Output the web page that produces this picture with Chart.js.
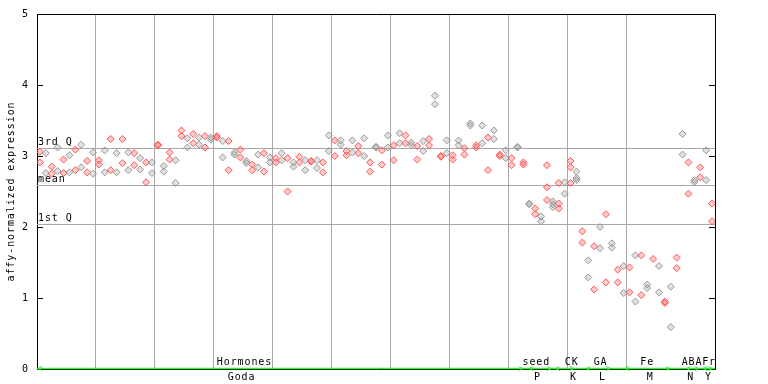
<!DOCTYPE html>
<html>
<head>
<meta charset="utf-8">
<script src="https://cdn.jsdelivr.net/npm/chart.js@4/dist/chart.umd.min.js"></script>
<style>
  html, body { margin: 0; padding: 0; background: #fff; }
  #wrap { width: 768px; height: 384px; }
</style>
</head>
<body>
<div id="wrap"><canvas id="expr"></canvas></div>
<script>
// replicate values per sample column (col i is drawn at x = i + 0.5)
var rep1 = [3.06, 3.04, 2.85, 3.12, 2.95, 3.01, 3.09, 3.16, 2.93, 3.05,
            2.94, 3.08, 3.24, 3.04, 3.24, 3.05, 3.04, 2.97, 2.91, 2.91,
            3.16, 2.86, 3.05, 2.94, 3.36, 3.25, 3.31, 3.26, 3.28, 3.26,
            3.28, 3.21, 3.21, 3.05, 3.09, 2.93, 2.88, 3.02, 3.04, 2.98,
            2.97, 3.04, 2.97, 2.91, 2.99, 2.94, 2.93, 2.94, 2.91, 3.29,
            3.22, 3.22, 3.07, 3.22, 3.14, 3.25, 2.91, 3.13, 3.08, 3.29,
            3.15, 3.32, 3.29, 3.19, 3.14, 3.21, 3.24, 3.85, 3.00, 3.22,
            3.01, 3.22, 3.11, 3.46, 3.15, 3.43, 3.26, 3.36, 3.02, 3.08,
            2.97, 3.13, 2.91, 2.33, 2.26, 2.15, 2.87, 2.36, 2.62, 2.63,
            2.93, 2.78, 1.94, 1.53, 1.73, 2.00, 2.18, 1.77, 1.40, 1.45,
            1.43, 1.60, 1.60, 1.19, 1.55, 1.45, 0.95, 1.16, 1.57, 3.31,
            2.91, 2.66, 2.84, 3.08, 2.33];
var rep2 = [2.91, 2.76, 2.75, 2.79, 2.76, 2.77, 2.80, 2.84, 2.77, 2.75,
            2.88, 2.77, 2.80, 2.77, 2.90, 2.80, 2.87, 2.81, 2.63, 2.76,
            3.15, 2.78, 2.95, 2.62, 3.28, 3.12, 3.18, 3.16, 3.12, 3.23,
            3.26, 2.98, 2.80, 3.02, 2.98, 2.90, 2.80, 2.84, 2.78, 2.91,
            2.91, 2.94, 2.50, 2.85, 2.91, 2.80, 2.92, 2.83, 2.77, 3.07,
            3.00, 3.16, 3.01, 3.05, 3.04, 3.00, 2.78, 3.12, 2.88, 3.12,
            2.94, 3.18, 3.18, 3.15, 2.95, 3.07, 3.15, 3.73, 2.99, 3.04,
            2.95, 3.15, 3.02, 3.43, 3.12, 3.18, 2.80, 3.24, 3.00, 2.97,
            2.87, 3.12, 2.88, 2.32, 2.18, 2.08, 2.56, 2.32, 2.33, 2.47,
            2.84, 2.69, 1.78, 1.29, 1.12, 1.70, 1.22, 1.71, 1.22, 1.07,
            1.08, 0.95, 1.04, 1.14, null, 1.08, 0.93, 0.59, 1.42, 3.02,
            2.47, 2.63, 2.70, 2.66, 2.08];
var rep3 = [];
rep3[86] = 2.38; rep3[87] = 2.28; rep3[88] = 2.26; rep3[90] = 2.62; rep3[91] = 2.66;

// quartile / mean reference lines
var refValues = [3.108, 2.587, 2.038];
var refNames = ['3rd Q', 'mean', '1st Q'];

// sample groups along the bottom
var groupNames = ['Hormones', 'seed', 'CK', 'GA', 'Fe', 'ABA', 'Fr'];
var groupSources = ['Goda', 'P', 'K', 'L', 'M', 'N', 'Y'];
var groupFrom = [0, 83.3, 87.8, 93.0, 99.6, 110.0, 112.8];
var groupTo = [82.6, 87.4, 91.2, 97.4, 107.5, 112.4, 114.7];
var groupLabelAt = [35.2, 84.7, 90.7, 95.6, 103.5, 111.1, 114.0];
var groupSourceAt = [34.7, 84.9, 91.0, 95.9, 104.0, 110.9, 113.9];

var nCols = 115;
var RED = '#ff5555';
var GREY = '#999999';
var GREEN = '#33ee33';
var FONT = { family: 'DejaVu Sans Mono', size: 10 };

var toPoints = function (rep) {
    var pts = [];
    for (var i = 0; i < nCols; i++) {
        var v = rep[i];
        pts.push({ x: i + 0.5, y: (v === undefined ? null : v) });
    }
    return pts;
};

var pointDataset = function (rep) {
    return {
        data: toPoints(rep),
        pointStyle: 'rectRot',
        pointRadius: 3.5,
        pointBorderWidth: 1,
        pointBackgroundColor: function (ctx) {
            return ctx.dataIndex % 2 ? 'rgba(153,153,153,0.3)' : 'rgba(255,85,85,0.3)';
        },
        pointBorderColor: function (ctx) { return ctx.dataIndex % 2 ? GREY : RED; }
    };
};

var decorations = {
    id: 'decorations',
    beforeDraw: function (chart) {
        chart.ctx.letterSpacing = '0.9px';
    },
    beforeDatasetsDraw: function (chart) {
        var ctx = chart.ctx, a = chart.chartArea, y = chart.scales.y;
        ctx.save();
        ctx.strokeStyle = '#a8a8a8';
        ctx.lineWidth = 1;
        ctx.fillStyle = '#000';
        ctx.font = '10px "DejaVu Sans Mono"';
        ctx.textAlign = 'left';
        ctx.textBaseline = 'bottom';
        refValues.forEach(function (v, i) {
            var py = Math.round(y.getPixelForValue(v)) + 0.5;
            ctx.beginPath();
            ctx.moveTo(a.left, py);
            ctx.lineTo(a.right, py);
            ctx.stroke();
            ctx.fillText(refNames[i], a.left + 1, py - 1);
        });
        ctx.restore();
    },
    afterDraw: function (chart) {
        var ctx = chart.ctx, a = chart.chartArea, x = chart.scales.x, y = chart.scales.y;
        ctx.save();
        // frame
        ctx.strokeStyle = '#000';
        ctx.lineWidth = 1;
        ctx.beginPath();
        ctx.moveTo(a.left, a.top + 0.5);
        ctx.lineTo(a.right + 0.5, a.top + 0.5);
        ctx.lineTo(a.right + 0.5, a.bottom + 0.5);
        ctx.lineTo(a.left, a.bottom + 0.5);
        ctx.stroke();
        // inside ticks
        for (var t = 0; t <= 5; t++) {
            var ty = Math.round(y.getPixelForValue(t)) + 0.5;
            ctx.beginPath();
            ctx.moveTo(a.left, ty);
            ctx.lineTo(a.left + 6, ty);
            ctx.moveTo(a.right - 6, ty);
            ctx.lineTo(a.right, ty);
            ctx.stroke();
        }
        // green group line with arrows
        var gy = a.bottom - 0.5;
        ctx.strokeStyle = GREEN;
        ctx.lineWidth = 1.5;
        ctx.beginPath();
        ctx.moveTo(a.left, gy);
        ctx.lineTo(a.right, gy);
        ctx.stroke();
        ctx.lineWidth = 1;
        groupNames.forEach(function (name, i) {
            var x0 = x.getPixelForValue(groupFrom[i]);
            var x1 = x.getPixelForValue(groupTo[i]);
            ctx.beginPath();
            ctx.moveTo(x0 + 5, gy - 2);
            ctx.lineTo(x0 + 1, gy);
            ctx.lineTo(x0 + 5, gy + 2);
            ctx.moveTo(x1 - 5, gy - 2);
            ctx.lineTo(x1 - 1, gy);
            ctx.lineTo(x1 - 5, gy + 2);
            ctx.stroke();
        });
        // group labels
        ctx.fillStyle = '#000';
        ctx.font = '10px "DejaVu Sans Mono"';
        ctx.textAlign = 'center';
        groupNames.forEach(function (name, i) {
            ctx.textBaseline = 'bottom';
            ctx.fillText(name, x.getPixelForValue(groupLabelAt[i]), a.bottom - 2);
            ctx.textBaseline = 'top';
            ctx.fillText(groupSources[i], x.getPixelForValue(groupSourceAt[i]), a.bottom + 3);
        });
        ctx.restore();
    }
};

new Chart('expr', {
    type: 'scatter',
    data: {
        datasets: [pointDataset(rep1), pointDataset(rep2), pointDataset(rep3)]
    },
    options: {
        responsive: true,
        maintainAspectRatio: false,
        animation: false,
        layout: { padding: { left: 0, right: 53, top: 14, bottom: 0 } },
        plugins: {
            legend: { display: false },
            tooltip: { enabled: false }
        },
        scales: {
            x: {
                type: 'linear',
                min: 0,
                max: nCols,
                ticks: { display: false, stepSize: 10 },
                grid: { color: '#a8a8a8', lineWidth: 1, drawTicks: false },
                border: { display: false },
                afterFit: function (s) { s.height = 15; }
            },
            y: {
                min: 0,
                max: 5,
                ticks: { stepSize: 1, color: '#000', font: FONT, padding: 8 },
                grid: { display: false, drawTicks: false },
                border: { display: true, color: '#000', width: 1 },
                title: {
                    display: true,
                    text: 'affy-normalized expression',
                    color: '#000',
                    font: FONT,
                    padding: { top: 5, bottom: 0 }
                },
                afterFit: function (s) { s.width = 37; }
            }
        }
    },
    plugins: [decorations]
});
</script>
</body>
</html>
